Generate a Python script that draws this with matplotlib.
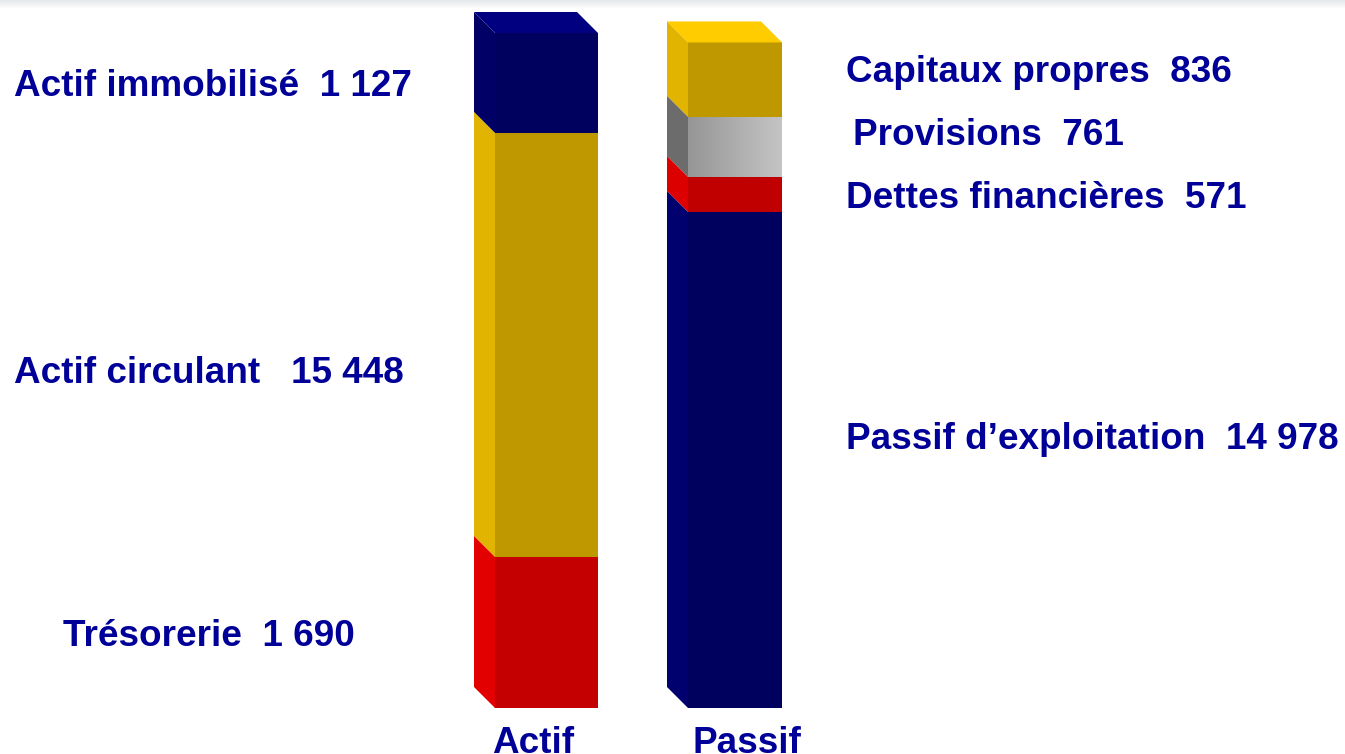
import numpy as np
import matplotlib.pyplot as plt
from matplotlib.colors import LinearSegmentedColormap
from matplotlib.patches import Rectangle, Polygon

# values shown in the labels
actif_names = ["Trésorerie", "Actif circulant", "Actif immobilisé"]
actif_values = [1690, 15448, 1127]
passif_names = ["Passif d\u2019exploitation", "Dettes financières", "Provisions", "Capitaux propres"]
passif_values = [14978, 571, 761, 836]

# drawn heights of the segments (percent of the Actif bar)
actif_heights = [22.4, 62.8, 14.8]
passif_heights = [73.5, 5.2, 8.9, 11.0]

bar_names = ["Actif", "Passif"]

# colours: front, side, top
actif_cols = [("#c40000", "#e20000", "#ff2020"),
              ("#bf9800", "#e0b400", "#ffcc00"),
              ("#00005e", "#000066", "#000080")]
passif_cols = [("#00005e", "#00006e", "#000080"),
               ("#c00000", "#dd0000", "#ff2020"),
               ("grad", "#6c6c6c", "#d0d0d0"),
               ("#bf9800", "#e0b400", "#ffcc00")]

TXT = "#000099"
W, H = 1345, 754
PX = 6.75  # pixels per height unit
y_bot = -(H - 708) / PX
y_top = 100 + 33 / PX

fig = plt.figure(figsize=(W / 100, H / 100), dpi=100)
ax = fig.add_axes([0, 0, 1, 1])
ax.set_xlim(0, W)
ax.set_ylim(y_bot, y_top)
ax.axis("off")

# faint grey band along the top edge
band_cmap = LinearSegmentedColormap.from_list("band", ["#ffffff", "#e6e7ea"])
band = np.linspace(0, 1, 20).reshape(-1, 1)
ax.imshow(band, cmap=band_cmap, aspect="auto", origin="lower",
          extent=(0, W, y_top - 9 / PX, y_top), zorder=0)

dx = 21
dy = 21 / PX
grey_cmap = LinearSegmentedColormap.from_list("g", ["#969696", "#c4c4c4"])


def draw_bar(x0, w, heights, cols):
    b = 0
    for i, (h, (front, side, top)) in enumerate(zip(heights, cols)):
        t = b + h
        if front == "grad":
            g = np.linspace(0, 1, 100).reshape(1, -1)
            ax.imshow(g, cmap=grey_cmap, aspect="auto",
                      extent=(x0, x0 + w, b, t), zorder=2)
        else:
            ax.add_patch(Rectangle((x0, b), w, h, facecolor=front,
                                   edgecolor="none", zorder=2))
        ax.add_patch(Polygon([(x0, b), (x0, t), (x0 - dx, t + dy), (x0 - dx, b + dy)],
                             closed=True, facecolor=side, edgecolor="none", zorder=2))
        if i == len(heights) - 1:
            ax.add_patch(Polygon([(x0, t), (x0 + w, t), (x0 + w - dx, t + dy), (x0 - dx, t + dy)],
                                 closed=True, facecolor=top, edgecolor="none", zorder=2))
        b = t


draw_bar(495, 103, actif_heights, actif_cols)
draw_bar(688, 94, passif_heights, passif_cols)


def fmt(v):
    return f"{v:,}".replace(",", " ")


def ypix(p):
    return (708 - p) / PX


font = dict(family="Liberation Sans", fontweight="bold", fontsize=26.6, color=TXT)

# left labels (x, baseline in pixels)
actif_gap = ["  ", "   ", "  "]
actif_pos = [(63, 646), (14, 383), (14, 96)]
for n, v, g, (x, y) in zip(actif_names, actif_values, actif_gap, actif_pos):
    ax.text(x, ypix(y), n + g + fmt(v), ha="left", va="baseline", **font)

# right labels
passif_pos = [(846, 449), (846, 208), (853, 145), (846, 82)]
for n, v, (x, y) in zip(passif_names, passif_values, passif_pos):
    ax.text(x, ypix(y), n + "  " + fmt(v), ha="left", va="baseline", **font)

# bar names
for n, x in zip(bar_names, [533, 747]):
    ax.text(x, ypix(753), n, ha="center", va="baseline", **font)

fig.savefig("out.png", dpi=100)
